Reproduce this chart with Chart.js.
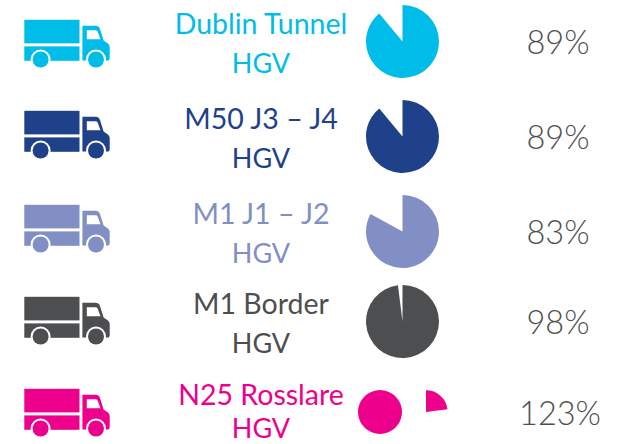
<!DOCTYPE html>
<html>
<head>
<meta charset="utf-8">
<script src="https://cdn.jsdelivr.net/npm/chart.js@4"></script>
<style>
  html, body { margin: 0; padding: 0; background: #fff; }
  #page { position: relative; width: 625px; height: 444px; overflow: hidden; font-family: Lato, "Open Sans", sans-serif; }
  .label, .sub, .pct { position: absolute; white-space: nowrap; text-align: center; transform: translateX(-50%); }
  .label { font-size: 28.5px; line-height: 24px; }
  .sub { font-size: 27px; line-height: 22px; }
  .pct { font-size: 32.5px; font-weight: 300; color: #4f4f4f; line-height: 36px; }
  .pie { position: absolute; }
  .truck { position: absolute; left: 0; width: 130px; height: 70px; }
</style>
</head>
<body>
<div id="page"></div>
<script>
const names = ['Dublin Tunnel', 'M50 J3 – J4', 'M1 J1 – J2', 'M1 Border', 'N25 Rosslare']
const subNames = ['HGV', 'HGV', 'HGV', 'HGV', 'HGV']
const percents = [89, 89, 83, 98, 123]
const colors = ['#00bce9', '#1f4189', '#818fc5', '#4d4e50', '#ec008c']

const rowY = [0, 91.3, 185.4, 277, 368.5]
const pieY = [41.3, 136, 231, 321, 412]
const page = document.getElementById('page')

function truck(color, top) {
  const svg = `<svg class="truck" style="top:${top}px" viewBox="0 0 130 70" fill="${color}">
    <rect x="24.3" y="19.8" width="55.2" height="23.6"/>
    <rect x="24.3" y="46.4" width="55.2" height="14.4"/>
    <path fill-rule="evenodd" d="M82.4 25.8H95.5Q98.8 25.8 100 29L103.6 40.5L108 43.5Q109.7 45 109.7 47V58Q109.7 60.6 107 60.6H82.4ZM86.8 30.3V39.3H100.5L97.6 31.5Q97 30.3 95.5 30.3Z"/>
    <circle cx="40.6" cy="59.5" r="10" fill="#fff"/>
    <circle cx="40.6" cy="59.5" r="8"/>
    <circle cx="96" cy="59.5" r="10" fill="#fff"/>
    <circle cx="96" cy="59.5" r="8"/>
  </svg>`
  page.insertAdjacentHTML('beforeend', svg)
}

function text(cls, str, x, y, color) {
  const el = document.createElement('div')
  el.className = cls
  el.textContent = str
  el.style.left = x + 'px'
  el.style.top = y + 'px'
  if (color) el.style.color = color
  page.appendChild(el)
}

function pie(cx, cy, r, data, bg) {
  const size = Math.ceil(r * 2) + 4
  const canvas = document.createElement('canvas')
  canvas.className = 'pie'
  canvas.width = size
  canvas.height = size
  canvas.style.left = cx - size / 2 + 'px'
  canvas.style.top = cy - size / 2 + 'px'
  canvas.style.width = size + 'px'
  canvas.style.height = size + 'px'
  page.appendChild(canvas)
  return new Chart(canvas, {
    type: 'pie',
    data: {
      datasets: [{ data, backgroundColor: bg, borderWidth: 0 }],
    },
    options: {
      responsive: false,
      animation: false,
      radius: r,
      layout: { padding: 0 },
      plugins: { legend: { display: false }, tooltip: { enabled: false } },
    },
  })
}

names.forEach((name, i) => {
  truck(colors[i], rowY[i])
  const c = colors[i]
  const y = Math.round(pieY[i])
  text('label', name, 261, y - 30, c)
  // last row sits against the bottom edge, keep it inside the page
  text('sub', subNames[i], 261, Math.min(y + 11, 417), c)
  text('pct', percents[i] + '%', i === 4 ? 560 : 558, y - 17)
  if (percents[i] <= 100) {
    pie(402.7, pieY[i], 36.5, [percents[i], 100 - percents[i]], [c, 'rgba(0,0,0,0)'])
  } else {
    // over 100%: one full circle plus the remainder as its own slice
    pie(380, pieY[i], 22, [100], [c])
    pie(425.7, pieY[i], 21.7, [percents[i] - 100, 200 - percents[i]], [c, 'rgba(0,0,0,0)'])
  }
})
</script>
</body>
</html>
